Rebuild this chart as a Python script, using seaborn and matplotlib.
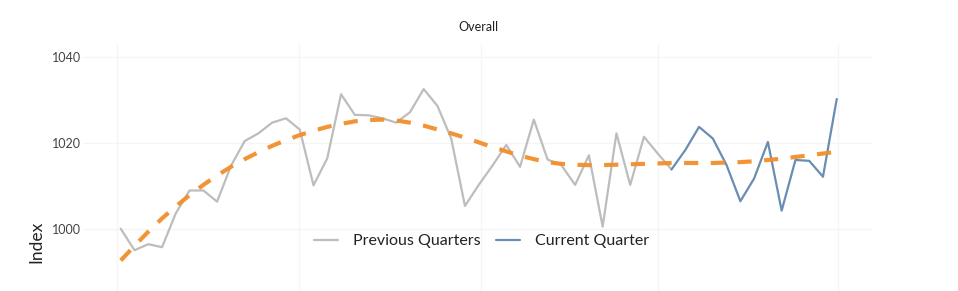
import matplotlib
matplotlib.use("Agg")
import matplotlib.pyplot as plt
import seaborn as sns
import pandas as pd

# ---- data ----
previous_values = [1000.0, 995.0, 996.4, 995.7, 1003.6, 1008.9, 1008.9, 1006.3, 1014.6, 1020.4,
                   1022.2, 1024.7, 1025.7, 1023.1, 1010.1, 1016.4, 1031.3, 1026.5, 1026.4, 1025.7,
                   1024.7, 1027.1, 1032.5, 1028.6, 1021.0, 1005.3, 1010.2, 1014.7, 1019.5, 1014.4,
                   1025.4, 1016.1, 1014.8, 1010.2, 1017.1, 1000.5, 1022.2, 1010.2, 1021.4, 1017.5,
                   1013.8]
current_values = [1013.8, 1018.3, 1023.7, 1021.0, 1014.8, 1006.4, 1011.7, 1020.2, 1004.2, 1016.0,
                  1015.8, 1012.1, 1030.2]
trend_values = [992.6, 996.0, 999.3, 1002.4, 1005.2, 1007.8, 1010.2, 1012.4, 1014.4, 1016.2,
                1017.8, 1019.3, 1020.6, 1021.8, 1022.8, 1023.7, 1024.4, 1025.0, 1025.3, 1025.4,
                1025.2, 1024.7, 1024.0, 1023.1, 1022.2, 1021.2, 1020.1, 1019.0, 1018.0, 1017.0,
                1016.2, 1015.5, 1015.1, 1014.9, 1014.8, 1014.8, 1014.9, 1015.0, 1015.1, 1015.2,
                1015.3, 1015.3, 1015.3, 1015.3, 1015.4, 1015.5, 1015.7, 1016.0, 1016.3, 1016.7,
                1017.1, 1017.5, 1017.9]
previous_weeks = list(range(0, 41))
current_weeks = list(range(40, 53))
trend_weeks = list(range(0, 53))
quarter_gridlines = [-0.25, 12.97, 26.2, 39.04, 52.1]
y_ticks = [1000, 1020, 1040]
series_labels = ["Previous Quarters", "Current Quarter"]

prev_df = pd.DataFrame({"week": previous_weeks, "Index": previous_values})
cur_df = pd.DataFrame({"week": current_weeks, "Index": current_values})
trend_df = pd.DataFrame({"week": trend_weeks, "Index": trend_values})

sns.set_theme(style="white")
plt.rcParams["font.family"] = ["Lato", "DejaVu Sans"]

W, H = 958, 291
fig = plt.figure(figsize=(W / 100, H / 100), dpi=100)
# axes in pixel coordinates: left 83, right 872, top 44, bottom 291
ax = fig.add_axes([83 / W, 0.0, (872 - 83) / W, (291 - 44) / H])

sns.lineplot(data=prev_df, x="week", y="Index", ax=ax, color="#bdbdbd",
             linewidth=1.6, label=series_labels[0], zorder=3)
sns.lineplot(data=cur_df, x="week", y="Index", ax=ax, color="#6a8db3",
             linewidth=1.6, label=series_labels[1], zorder=3)
sns.lineplot(data=trend_df, x="week", y="Index", ax=ax, color="#f28e2b",
             linewidth=3.0, legend=False, zorder=4)
ax.lines[-1].set_dashes((3.4, 3.0))
ax.lines[-1].set_alpha(0.95)

ax.set_xlim(-2.74, 54.56)
ax.set_ylim(985.5, 1043.0)
ax.set_xticks(quarter_gridlines)
ax.set_xticklabels([])
ax.set_yticks(y_ticks)
ax.set_yticklabels([str(v) for v in y_ticks], fontsize=9, color="#444444")
ax.tick_params(axis="both", length=0, pad=1.5)
ax.grid(True, color="#f5f5f5", linewidth=0.9)
ax.set_axisbelow(True)
for s in ax.spines.values():
    s.set_visible(False)

ax.set_xlabel("")
ax.set_ylabel("Index", fontsize=12.5, color="#222222")
ax.yaxis.set_label_coords(-0.049, 0.2)

handles, labels = ax.get_legend_handles_labels()
ax.legend(handles[:2], labels[:2], loc="center", bbox_to_anchor=(0.505, 0.202),
          ncol=2, frameon=False, fontsize=11.5, handlelength=1.5,
          handletextpad=0.9, columnspacing=1.0, labelcolor="#222222")

fig.text(478 / W, 1 - 27 / H, "Overall", ha="center", va="center",
         fontsize=9, color="#222222")

fig.savefig("out.png", dpi=100)
